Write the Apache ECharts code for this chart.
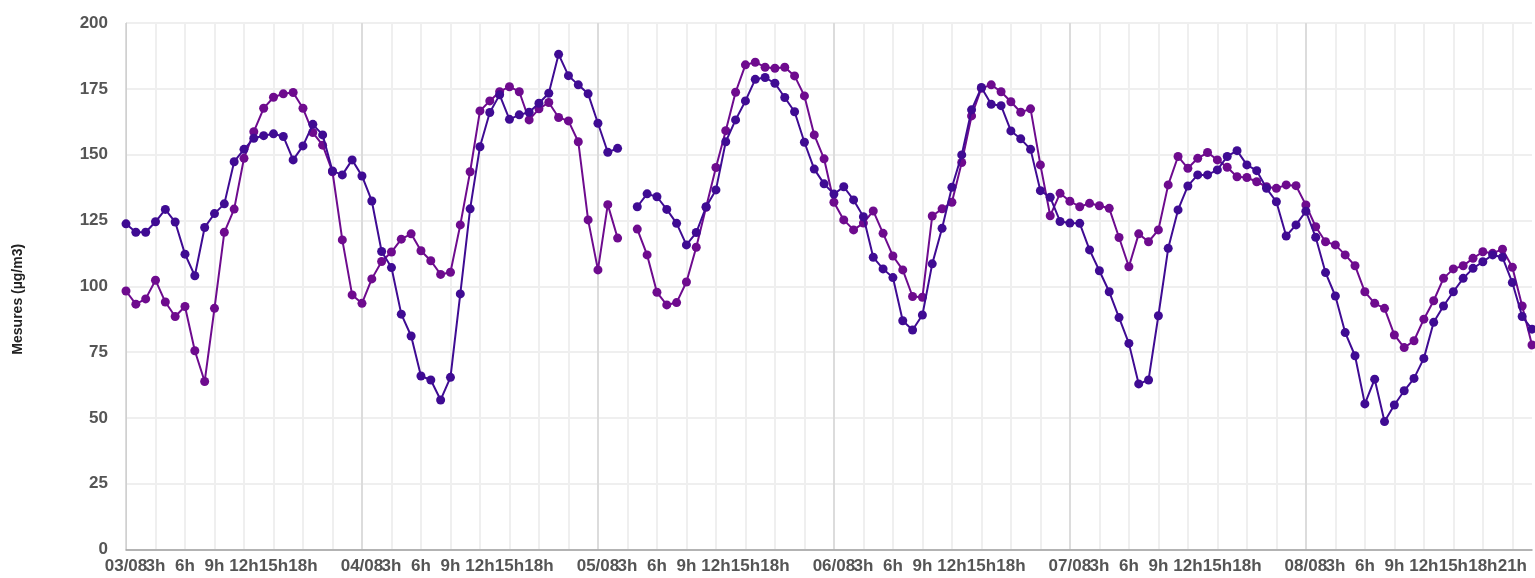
<!DOCTYPE html>
<html>
<head>
<meta charset="utf-8">
<script src="https://cdn.jsdelivr.net/npm/echarts@6/dist/echarts.min.js"></script>
<style>
html,body{margin:0;padding:0;background:#fff;}
#chart{width:1535px;height:578px;}
</style>
</head>
<body>
<div id="chart"></div>
<script>
// Days shown on the x axis (hourly categories, 0h..23h per day)
const days = ["03/08", "04/08", "05/08", "06/08", "07/08", "08/08"];
const hoursPerDay = 24;

// Series 1 (dark indigo), hourly values in µg/m3, null = missing
const serieA = [
  123.7,120.5,120.5,124.5,129.2,124.4,112.2,104.0,122.3,127.6,131.3,147.3,152.0,156.2,157.2,157.9,156.9,148.0,153.3,161.5,157.5,143.8,142.3,148.0,
  141.9,132.4,113.2,107.1,89.4,81.1,65.9,64.4,56.8,65.4,97.1,129.4,153.0,166.0,172.7,163.4,165.1,166.1,169.5,173.3,188.1,180.0,176.5,173.1,
  161.9,150.9,152.4,null,130.2,135.1,134.0,129.2,123.9,115.7,120.4,130.2,136.6,154.9,163.2,170.4,178.6,179.3,177.1,171.7,166.3,154.7,144.5,138.9,
  135.0,137.8,132.8,126.4,111.0,106.6,103.3,86.9,83.4,89.1,108.5,122.0,137.6,149.9,167.0,175.5,169.1,168.6,159.0,156.0,152.0,136.3,133.8,124.6,
  124.0,123.9,113.8,105.9,97.9,88.1,78.3,62.9,64.4,88.8,114.4,129.0,138.1,142.3,142.3,144.2,149.3,151.5,146.1,143.9,137.2,132.1,119.1,123.3,
  128.5,118.6,105.2,96.3,82.4,73.6,55.3,64.7,48.6,54.9,60.3,65.0,72.6,86.3,92.5,97.9,103.0,106.8,109.3,111.9,111.0,101.4,88.5,83.7
];

// Series 2 (purple), hourly values in µg/m3, null = missing
const serieB = [
  98.2,93.2,95.2,102.3,94.0,88.5,92.3,75.5,63.8,91.6,120.5,129.3,148.6,158.7,167.6,171.8,173.1,173.6,167.6,158.4,153.6,143.5,117.6,96.7,
  93.5,102.8,109.4,113.0,117.9,119.9,113.5,109.7,104.5,105.3,123.3,143.5,166.6,170.4,173.9,175.8,173.9,163.2,167.4,169.8,164.1,162.8,154.9,125.2,
  106.2,131.0,118.3,null,121.7,111.9,97.7,92.9,93.8,101.6,114.8,130.0,145.1,159.1,173.7,184.1,185.1,183.2,182.8,183.2,179.9,172.3,157.5,148.4,
  131.9,125.2,121.4,124.0,128.6,120.1,111.5,106.2,96.1,95.8,126.7,129.4,131.9,147.0,164.7,175.2,176.5,173.9,170.1,166.1,167.4,146.1,126.8,135.3,
  132.3,130.2,131.5,130.6,129.6,118.5,107.4,119.9,116.9,121.4,138.5,149.3,144.8,148.6,150.8,148.0,145.2,141.6,141.3,139.7,137.8,137.2,138.5,138.2,
  130.9,122.6,116.9,115.7,111.9,107.8,97.9,93.5,91.6,81.5,76.7,79.3,87.5,94.5,103.0,106.6,107.8,110.6,113.1,112.5,114.1,107.2,92.5,77.7
];

// Y axis ticks
const yTicks = [0, 25, 50, 75, 100, 125, 150, 175, 200];

const categories = [];
days.forEach(d => { for (let h = 0; h < hoursPerDay; h++) categories.push({day: d, hour: h}); });
const catKeys = categories.map((c, i) => String(i));

function xLabel(i) {
  const c = categories[i];
  const dayIdx = Math.floor(i / hoursPerDay);
  if (c.hour === 0) return c.day;
  if (c.hour % 3 !== 0) return '';
  if (c.hour === 21 && dayIdx < days.length - 1) return '';
  return c.hour + 'h';
}

const font = 'Arial, "Liberation Sans", sans-serif';
const chart = echarts.init(document.getElementById('chart'), null, {renderer: 'canvas'});
const vColors = ['#dcdcdc', '#efefef', '#efefef', '#efefef', '#efefef', '#efefef', '#efefef', '#efefef'];

chart.setOption({
  animation: false,
  backgroundColor: '#fff',
  grid: {left: 126, right: 1, top: 23, bottom: 28.5, containLabel: false},
  xAxis: {
    type: 'category',
    data: catKeys,
    boundaryGap: false,
    axisLine: {show: true, lineStyle: {color: '#a0a0a0', width: 1.5}},
    axisTick: {show: false},
    axisLabel: {
      interval: 0,
      formatter: (v, i) => xLabel(Number(v)),
      color: '#555',
      fontWeight: 'bold',
      fontSize: 17,
      fontFamily: font,
      margin: 8
    },
    splitLine: {
      show: true,
      interval: (i) => i % 3 === 0,
      lineStyle: {color: vColors, width: 2}
    }
  },
  yAxis: {
    type: 'value',
    min: yTicks[0],
    max: yTicks[yTicks.length - 1],
    interval: 25,
    name: 'Mesures (µg/m3)',
    nameLocation: 'middle',
    nameGap: 101,
    nameTextStyle: {color: '#222', fontWeight: 'bold', fontSize: 14, fontFamily: font, padding: [0, 26, 0, 0]},
    axisLine: {show: true, lineStyle: {color: '#d0d0d0', width: 1}},
    axisTick: {show: false},
    axisLabel: {color: '#555', fontWeight: 'bold', fontSize: 17, fontFamily: font, margin: 18},
    splitLine: {show: true, lineStyle: {color: '#efefef', width: 2}}
  },
  series: [
    {
      name: 'Mesure B',
      type: 'line',
      data: serieB,
      connectNulls: false,
      symbol: 'circle',
      symbolSize: 9,
      showSymbol: true,
      itemStyle: {color: '#6e0b8e'},
      lineStyle: {color: '#6e0b8e', width: 2},
      z: 2
    },
    {
      name: 'Mesure A',
      type: 'line',
      data: serieA,
      connectNulls: false,
      symbol: 'circle',
      symbolSize: 9,
      showSymbol: true,
      itemStyle: {color: '#3f0b93'},
      lineStyle: {color: '#3f0b93', width: 2},
      z: 3
    }
  ]
});
</script>
</body>
</html>
